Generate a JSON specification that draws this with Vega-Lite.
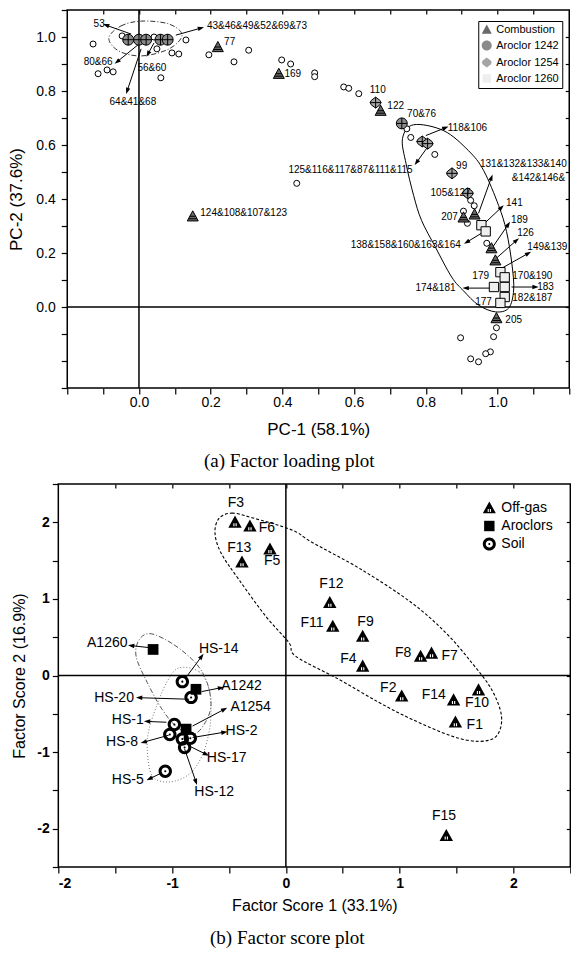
{
"$schema": "https://vega.github.io/schema/vega-lite/v6.json",
"background": "white",
"padding": {"left": 6, "top": 2, "right": 0, "bottom": 0},
"config": {
  "font": "Liberation Sans",
  "view": {"stroke": "black", "strokeWidth": 1.5},
  "axis": {"domain": false, "grid": false, "tickColor": "black", "labelColor": "black", "titleColor": "black", "labelFont": "Liberation Sans", "titleFont": "Liberation Sans", "titleFontWeight": "normal", "labelOverlap": false, "tickWidth": 1.2},
  "text": {"font": "Liberation Sans", "color": "black"}
},
"columns": 1,
"align": "all",
"center": true,
"spacing": 1,
"resolve": {"scale": {"x": "independent", "y": "independent", "shape": "independent", "fill": "independent"}, "legend": {"shape": "independent", "fill": "independent"}},
"concat": [
{
"width": 502, "height": 378,
"title": {"text": "(a)  Factor loading plot", "orient": "bottom", "anchor": "middle", "dx": -29, "offset": 15, "font": "Liberation Serif", "fontSize": 19, "fontWeight": "normal", "color": "black"},
"resolve": {"axis": {"x": "independent", "y": "independent"}},
"layer": [
 {"data": {"values": [{"z": 0}]},
  "mark": {"type": "rule", "color": "black", "strokeWidth": 1.5},
  "encoding": {"x": {"datum": 0, "type": "quantitative", "scale": {"domain": [-0.2, 1.2], "nice": false, "zero": false},
     "axis": {"orient": "top", "labels": false, "title": null, "values": [-0.1,0,0.1,0.2,0.3,0.4,0.5,0.6,0.7,0.8,0.9,1.0,1.1], "tickSize": 4, "offset": -4}}}},
 {"data": {"values": [{"z": 0}]},
  "mark": {"type": "rule", "color": "black", "strokeWidth": 1.5},
  "encoding": {"y": {"datum": 0, "type": "quantitative", "scale": {"domain": [-0.3, 1.1], "nice": false, "zero": false},
     "axis": {"orient": "right", "labels": false, "title": null, "values": [-0.2,-0.1,0,0.1,0.2,0.3,0.4,0.5,0.6,0.7,0.8,0.9,1.0], "tickSize": 4, "offset": -4}}}},
 {"data": {"values": [
   {"i":1,"x":-0.084,"y":0.996},{"i":2,"x":-0.05,"y":1.041},{"i":3,"x":0.008,"y":1.059},{"i":4,"x":0.084,"y":1.048},
   {"i":5,"x":0.12,"y":1.007},{"i":6,"x":0.084,"y":0.956},{"i":7,"x":0.008,"y":0.93},{"i":8,"x":-0.056,"y":0.948}]},
  "mark": {"type": "line", "interpolate": "cardinal-closed", "color": "#333", "strokeWidth": 1, "strokeDash": [5, 2, 1, 2]},
  "encoding": {
    "x": {"field": "x", "type": "quantitative", "axis": {"orient": "bottom", "title": "PC-1 (58.1%)", "titleFontSize": 17, "titlePadding": 12, "labelFontSize": 14, "labelPadding": 1, "tickSize": 6,
       "values": [-0.2,-0.1,0,0.1,0.2,0.3,0.4,0.5,0.6,0.7,0.8,0.9,1.0,1.1,1.2],
       "labelExpr": "datum.value > -0.01 && datum.value < 1.05 && abs(round(datum.value*10)) % 2 == 0 ? format(datum.value, '.1f') : ''"}},
    "y": {"field": "y", "type": "quantitative", "axis": {"orient": "left", "title": "PC-2 (37.6%)", "titleFontSize": 17, "titlePadding": 10.5, "labelFontSize": 14, "labelPadding": 6, "tickSize": 6,
       "values": [-0.3,-0.2,-0.1,0,0.1,0.2,0.3,0.4,0.5,0.6,0.7,0.8,0.9,1.0,1.1],
       "labelExpr": "datum.value > -0.01 && datum.value < 1.05 && abs(round(datum.value*10)) % 2 == 0 ? format(datum.value, '.1f') : ''"}},
    "order": {"field": "i", "type": "quantitative"}}},
 {"data": {"values": [
   {"i":1,"x":0.766,"y":0.675},{"i":2,"x":0.85,"y":0.653},{"i":3,"x":0.919,"y":0.579},{"i":4,"x":0.961,"y":0.506},
   {"i":5,"x":1.003,"y":0.376},{"i":6,"x":1.025,"y":0.28},{"i":7,"x":1.04,"y":0.16},{"i":8,"x":1.045,"y":0.063},
   {"i":9,"x":1.031,"y":-0.004},{"i":10,"x":0.994,"y":-0.018},{"i":11,"x":0.947,"y":0.007},{"i":12,"x":0.905,"y":0.06},
   {"i":13,"x":0.872,"y":0.111},{"i":14,"x":0.827,"y":0.221},{"i":15,"x":0.788,"y":0.321},{"i":16,"x":0.766,"y":0.413},
   {"i":17,"x":0.745,"y":0.53},{"i":18,"x":0.735,"y":0.624}]},
  "mark": {"type": "line", "interpolate": "cardinal-closed", "color": "black", "strokeWidth": 1},
  "encoding": {"x": {"field": "x", "type": "quantitative", "axis": null}, "y": {"field": "y", "type": "quantitative", "axis": null}, "order": {"field": "i", "type": "quantitative"}}},
 {"data": {"name": "arrowsA", "values": [
   {"x":-0.022,"y":1.011,"x2":-0.092,"y2":1.044},
   {"x":0.103,"y":1.007,"x2":0.173,"y2":1.033},
   {"x":0.0,"y":0.974,"x2":-0.061,"y2":0.908},
   {"x":0.042,"y":0.978,"x2":0.025,"y2":0.937},
   {"x":0.006,"y":0.956,"x2":-0.033,"y2":0.8},
   {"x":0.8,"y":0.635,"x2":0.855,"y2":0.664},
   {"x":0.808,"y":0.598,"x2":0.774,"y2":0.535},
   {"x":0.947,"y":0.347,"x2":0.983,"y2":0.48},
   {"x":0.967,"y":0.314,"x2":1.011,"y2":0.369},
   {"x":0.986,"y":0.221,"x2":1.03,"y2":0.306},
   {"x":0.997,"y":0.181,"x2":1.053,"y2":0.247},
   {"x":1.003,"y":0.137,"x2":1.086,"y2":0.199},
   {"x":0.955,"y":0.273,"x2":0.914,"y2":0.24},
   {"x":0.983,"y":0.07,"x2":0.911,"y2":0.07},
   {"x":1.039,"y":0.074,"x2":1.106,"y2":0.074}]},
  "mark": {"type": "rule", "color": "black", "strokeWidth": 1},
  "encoding": {"x": {"field": "x", "type": "quantitative", "axis": null}, "y": {"field": "y", "type": "quantitative", "axis": null},
    "x2": {"field": "x2"}, "y2": {"field": "y2"}}},
 {"data": {"values": [
   {"x":-0.128,"y":0.974},{"x":-0.114,"y":0.864},{"x":-0.089,"y":0.878},{"x":-0.072,"y":0.871},{"x":-0.047,"y":1.004},
   {"x":0.042,"y":1.0},{"x":0.05,"y":0.956},{"x":0.061,"y":0.849},{"x":0.092,"y":0.941},{"x":0.111,"y":0.937},
   {"x":0.131,"y":0.989},{"x":0.195,"y":0.934},{"x":0.265,"y":0.908},{"x":0.306,"y":0.951},{"x":0.398,"y":0.915},
   {"x":0.423,"y":0.9},{"x":0.44,"y":0.458},{"x":0.49,"y":0.867},{"x":0.49,"y":0.853},{"x":0.571,"y":0.815},
   {"x":0.585,"y":0.81},{"x":0.613,"y":0.79},{"x":0.747,"y":0.66},{"x":0.758,"y":0.628},{"x":0.825,"y":0.565},
   {"x":0.925,"y":0.395},{"x":0.935,"y":0.375},{"x":0.905,"y":0.355},{"x":0.916,"y":0.31},{"x":0.97,"y":0.236},
   {"x":0.997,"y":-0.077},{"x":0.989,"y":-0.11},{"x":0.897,"y":-0.114},{"x":0.98,"y":-0.166},{"x":0.967,"y":-0.173},
   {"x":0.925,"y":-0.192},{"x":0.947,"y":-0.203}]},
  "mark": {"type": "point", "shape": "circle", "filled": true, "fill": "white", "stroke": "black", "strokeWidth": 1, "size": 36, "opacity": 1},
  "encoding": {"x": {"field": "x", "type": "quantitative", "axis": null}, "y": {"field": "y", "type": "quantitative", "axis": null}}},
 {"data": {"values": [
   {"x":-0.03,"y":0.99,"g":"Aroclor 1242"},{"x":0.0,"y":0.99,"g":"Aroclor 1242"},{"x":0.02,"y":0.99,"g":"Aroclor 1242"},
   {"x":0.06,"y":0.99,"g":"Aroclor 1242"},{"x":0.08,"y":0.99,"g":"Aroclor 1242"},{"x":0.733,"y":0.68,"g":"Aroclor 1242"},
   {"x":0.66,"y":0.757,"g":"Aroclor 1254"},{"x":0.79,"y":0.613,"g":"Aroclor 1254"},{"x":0.805,"y":0.605,"g":"Aroclor 1254"},
   {"x":0.873,"y":0.495,"g":"Aroclor 1254"},{"x":0.917,"y":0.421,"g":"Aroclor 1254"},
   {"x":0.22,"y":0.963,"g":"Combustion"},{"x":0.39,"y":0.864,"g":"Combustion"},{"x":0.15,"y":0.336,"g":"Combustion"},
   {"x":0.674,"y":0.727,"g":"Combustion"},{"x":0.905,"y":0.332,"g":"Combustion"},{"x":0.936,"y":0.343,"g":"Combustion"},
   {"x":0.983,"y":0.218,"g":"Combustion"},{"x":0.994,"y":0.173,"g":"Combustion"},{"x":0.997,"y":-0.041,"g":"Combustion"},
   {"x":0.955,"y":0.303,"g":"Aroclor 1260"},{"x":0.967,"y":0.28,"g":"Aroclor 1260"},{"x":1.008,"y":0.129,"g":"Aroclor 1260"},
   {"x":1.02,"y":0.11,"g":"Aroclor 1260"},{"x":0.99,"y":0.074,"g":"Aroclor 1260"},{"x":1.02,"y":0.074,"g":"Aroclor 1260"},
   {"x":1.02,"y":0.037,"g":"Aroclor 1260"},{"x":1.008,"y":0.015,"g":"Aroclor 1260"}]},
  "mark": {"type": "point", "filled": true, "stroke": "black", "strokeWidth": 1, "size": 120, "opacity": 1},
  "encoding": {"x": {"field": "x", "type": "quantitative", "axis": null}, "y": {"field": "y", "type": "quantitative", "axis": null},
    "shape": {"field": "g", "type": "nominal",
      "scale": {"domain": ["Combustion", "Aroclor 1242", "Aroclor 1254", "Aroclor 1260"],
        "range": ["M0,-1L1,0.85L-1,0.85Z M-0.55,0L0.55,0 M-0.75,0.45L0.75,0.45",
                  "M-1,0A1,1,0,1,1,1,0A1,1,0,1,1,-1,0Z M-1,0L1,0 M0,-1L0,1",
                  "M0,-1L0.8,-0.4L1,0L0.8,0.4L0,1L-0.8,0.4L-1,0L-0.8,-0.4Z M-1,0L1,0 M0,-1L0,1",
                  "M-0.85,-0.85L0.85,-0.85L0.85,0.85L-0.85,0.85Z"]},
      "legend": {"orient": "none", "legendX": 411, "legendY": 11, "title": null, "strokeColor": "black", "fillColor": "white", "padding": 3, "labelFontSize": 11, "labelColor": "black", "symbolStrokeColor": "black", "symbolStrokeWidth": 1, "symbolSize": 100, "symbolOpacity": 1, "rowPadding": 2, "labelOffset": 4}},
    "fill": {"field": "g", "type": "nominal",
      "scale": {"domain": ["Combustion", "Aroclor 1242", "Aroclor 1254", "Aroclor 1260"], "range": ["#6a6a6a", "#8a8a8a", "#a5a5a5", "#eeeeee"]},
      "legend": {"orient": "none", "legendX": 411, "legendY": 11, "title": null, "strokeColor": "black", "fillColor": "white", "padding": 3, "labelFontSize": 11, "labelColor": "black", "symbolStrokeColor": "black", "symbolStrokeWidth": 1, "symbolSize": 100, "symbolOpacity": 1, "rowPadding": 2, "labelOffset": 4}}}},
 {"data": {"name": "arrowsA"},
  "mark": {"type": "point", "shape": "M0,-1L0.7,1L-0.7,1Z", "filled": true, "color": "black", "size": 40, "opacity": 1,
    "angle": {"expr": "atan2((datum.x2-datum.x)*359, (datum.y2-datum.y)*271)*180/PI"}},
  "encoding": {"x": {"field": "x2", "type": "quantitative", "axis": null}, "y": {"field": "y2", "type": "quantitative", "axis": null}}},
 {"data": {"values": [
   {"x":-0.111,"y":1.048,"t":"53"},
   {"x":0.329,"y":1.041,"t":"43&46&49&52&69&73"},
   {"x":-0.114,"y":0.908,"t":"80&66"},
   {"x":0.036,"y":0.886,"t":"56&60"},
   {"x":-0.017,"y":0.76,"t":"64&41&68"},
   {"x":0.253,"y":0.982,"t":"77"},
   {"x":0.429,"y":0.864,"t":"169"},
   {"x":0.292,"y":0.347,"t":"124&108&107&123"},
   {"x":0.666,"y":0.804,"t":"110"},
   {"x":0.716,"y":0.745,"t":"122"},
   {"x":0.788,"y":0.716,"t":"70&76"},
   {"x":0.916,"y":0.664,"t":"118&106"},
   {"x":0.59,"y":0.506,"t":"125&116&117&87&111&115"},
   {"x":0.9,"y":0.524,"t":"99"},
   {"x":1.072,"y":0.53,"t":"131&132&133&140"},
   {"x":1.114,"y":0.476,"t":"&142&146&"},
   {"x":0.869,"y":0.421,"t":"105&127"},
   {"x":1.047,"y":0.384,"t":"141"},
   {"x":0.866,"y":0.332,"t":"207"},
   {"x":1.061,"y":0.321,"t":"189"},
   {"x":1.078,"y":0.273,"t":"126"},
   {"x":1.139,"y":0.221,"t":"149&139"},
   {"x":0.744,"y":0.229,"t":"138&158&160&163&164"},
   {"x":0.953,"y":0.114,"t":"179"},
   {"x":1.097,"y":0.114,"t":"170&190"},
   {"x":0.827,"y":0.07,"t":"174&181"},
   {"x":1.134,"y":0.074,"t":"183"},
   {"x":1.097,"y":0.033,"t":"182&187"},
   {"x":0.961,"y":0.018,"t":"177"},
   {"x":1.045,"y":-0.048,"t":"205"}]},
  "mark": {"type": "text", "fontSize": 10, "align": "center", "baseline": "middle", "color": "black"},
  "encoding": {"x": {"field": "x", "type": "quantitative", "axis": null}, "y": {"field": "y", "type": "quantitative", "axis": null}, "text": {"field": "t"}}}
]
},
{
"width": 512, "height": 383,
"title": {"text": "(b)  Factor score plot", "orient": "bottom", "anchor": "middle", "dx": -27, "offset": 15.5, "font": "Liberation Serif", "fontSize": 19, "fontWeight": "normal", "color": "black"},
"resolve": {"axis": {"x": "independent", "y": "independent"}},
"layer": [
 {"data": {"values": [{"z": 0}]},
  "mark": {"type": "rule", "color": "black", "strokeWidth": 1.5},
  "encoding": {"x": {"datum": 0, "type": "quantitative", "scale": {"domain": [-2, 2.5], "nice": false, "zero": false},
     "axis": {"orient": "top", "labels": false, "title": null, "values": [-1.5,-1,-0.5,0,0.5,1,1.5,2], "tickSize": 4, "offset": -4}}}},
 {"data": {"values": [{"z": 0}]},
  "mark": {"type": "rule", "color": "black", "strokeWidth": 1.5},
  "encoding": {"y": {"datum": 0, "type": "quantitative", "scale": {"domain": [-2.5, 2.5], "nice": false, "zero": false},
     "axis": {"orient": "right", "labels": false, "title": null, "values": [-2,-1.5,-1,-0.5,0,0.5,1,1.5,2], "tickSize": 12, "offset": -4}}}},
 {"data": {"values": [
   {"i":1,"x":-0.588,"y":2.05},{"i":2,"x":-0.474,"y":2.12},{"i":3,"x":-0.298,"y":2.06},{"i":4,"x":0.053,"y":1.9},
   {"i":5,"x":0.228,"y":1.74},{"i":6,"x":0.667,"y":1.38},{"i":7,"x":1.105,"y":0.95},{"i":8,"x":1.404,"y":0.56},
   {"i":9,"x":1.632,"y":0.17},{"i":10,"x":1.807,"y":-0.18},{"i":11,"x":1.895,"y":-0.53},{"i":12,"x":1.851,"y":-0.79},
   {"i":13,"x":1.693,"y":-0.86},{"i":14,"x":1.456,"y":-0.79},{"i":15,"x":1.105,"y":-0.57},{"i":16,"x":0.816,"y":-0.35},
   {"i":17,"x":0.465,"y":-0.05},{"i":18,"x":0.088,"y":0.25},{"i":19,"x":0.026,"y":0.43},{"i":20,"x":-0.175,"y":0.77},
   {"i":21,"x":-0.412,"y":1.25},{"i":22,"x":-0.57,"y":1.6},{"i":23,"x":-0.623,"y":1.86}]},
  "mark": {"type": "line", "interpolate": "cardinal-closed", "color": "black", "strokeWidth": 1.1, "strokeDash": [3, 2]},
  "encoding": {
    "x": {"field": "x", "type": "quantitative", "axis": {"orient": "bottom", "title": "Factor Score 1 (33.1%)", "titleFontSize": 16, "titlePadding": 7, "labelFontSize": 14, "labelFontWeight": "bold", "labelPadding": 3, "tickSize": 6,
       "values": [-2,-1.5,-1,-0.5,0,0.5,1,1.5,2,2.5],
       "labelExpr": "abs(round(datum.value*2)) % 2 == 0 ? '' + datum.value : ''"}},
    "y": {"field": "y", "type": "quantitative", "axis": {"orient": "left", "title": "Factor Score 2 (16.9%)", "titleFontSize": 16, "titlePadding": 9, "labelFontSize": 14, "labelFontWeight": "bold", "labelPadding": 3, "tickSize": 6,
       "values": [-2.5,-2,-1.5,-1,-0.5,0,0.5,1,1.5,2,2.5],
       "labelExpr": "abs(round(datum.value*2)) % 2 == 0 ? '' + datum.value : ''"}},
    "order": {"field": "i", "type": "quantitative"}}},
 {"data": {"values": [
   {"i":1,"x":-1.184,"y":0.545},{"i":2,"x":-0.982,"y":0.4},{"i":3,"x":-0.789,"y":0.156},{"i":4,"x":-0.693,"y":-0.09},
   {"i":5,"x":-0.658,"y":-0.377},{"i":6,"x":-0.702,"y":-0.597},{"i":7,"x":-0.807,"y":-0.766},{"i":8,"x":-0.956,"y":-0.675},
   {"i":9,"x":-1.088,"y":-0.442},{"i":10,"x":-1.219,"y":-0.09},{"i":11,"x":-1.316,"y":0.247},{"i":12,"x":-1.289,"y":0.468}]},
  "mark": {"type": "line", "interpolate": "cardinal-closed", "color": "#555", "strokeWidth": 1, "strokeDash": [5, 2, 1, 2]},
  "encoding": {"x": {"field": "x", "type": "quantitative", "axis": null}, "y": {"field": "y", "type": "quantitative", "axis": null}, "order": {"field": "i", "type": "quantitative"}}},
 {"data": {"values": [
   {"i":1,"x":-0.939,"y":0.1},{"i":2,"x":-0.763,"y":0.05},{"i":3,"x":-0.675,"y":-0.18},{"i":4,"x":-0.658,"y":-0.47},
   {"i":5,"x":-0.675,"y":-0.74},{"i":6,"x":-0.737,"y":-1.05},{"i":7,"x":-0.851,"y":-1.29},{"i":8,"x":-1.026,"y":-1.39},
   {"i":9,"x":-1.175,"y":-1.31},{"i":10,"x":-1.219,"y":-0.96},{"i":11,"x":-1.202,"y":-0.7},{"i":12,"x":-1.132,"y":-0.38},
   {"i":13,"x":-1.044,"y":-0.08}]},
  "mark": {"type": "line", "interpolate": "cardinal-closed", "color": "#777", "strokeWidth": 1, "strokeDash": [1, 2]},
  "encoding": {"x": {"field": "x", "type": "quantitative", "axis": null}, "y": {"field": "y", "type": "quantitative", "axis": null}, "order": {"field": "i", "type": "quantitative"}}},
 {"data": {"name": "arrowsB", "values": [
   {"x":-1.175,"y":0.36,"x2":-1.36,"y2":0.39},
   {"x":-0.88,"y":-0.03,"x2":-0.74,"y2":0.25},
   {"x":-0.74,"y":-0.21,"x2":-0.57,"y2":-0.16},
   {"x":-0.85,"y":-0.31,"x2":-1.29,"y2":-0.29},
   {"x":-0.82,"y":-0.66,"x2":-0.54,"y2":-0.44},
   {"x":-1.05,"y":-0.61,"x2":-1.22,"y2":-0.6},
   {"x":-1.03,"y":-0.78,"x2":-1.25,"y2":-0.87},
   {"x":-0.82,"y":-0.81,"x2":-0.54,"y2":-0.74},
   {"x":-0.85,"y":-0.92,"x2":-0.7,"y2":-1.03},
   {"x":-0.89,"y":-0.96,"x2":-0.79,"y2":-1.39},
   {"x":-1.09,"y":-1.27,"x2":-1.2,"y2":-1.35}]},
  "mark": {"type": "rule", "color": "black", "strokeWidth": 1},
  "encoding": {"x": {"field": "x", "type": "quantitative", "axis": null}, "y": {"field": "y", "type": "quantitative", "axis": null},
    "x2": {"field": "x2"}, "y2": {"field": "y2"}}},
 {"data": {"values": [
   {"x":1.49,"y":-0.61,"g":"Off-gas"},{"x":1.018,"y":-0.27,"g":"Off-gas"},{"x":-0.447,"y":2.0,"g":"Off-gas"},
   {"x":0.675,"y":0.12,"g":"Off-gas"},{"x":-0.14,"y":1.65,"g":"Off-gas"},{"x":-0.316,"y":1.95,"g":"Off-gas"},
   {"x":1.28,"y":0.29,"g":"Off-gas"},{"x":1.184,"y":0.25,"g":"Off-gas"},{"x":0.675,"y":0.51,"g":"Off-gas"},
   {"x":1.693,"y":-0.19,"g":"Off-gas"},{"x":0.412,"y":0.64,"g":"Off-gas"},{"x":0.386,"y":0.95,"g":"Off-gas"},
   {"x":-0.386,"y":1.48,"g":"Off-gas"},{"x":1.474,"y":-0.32,"g":"Off-gas"},{"x":1.41,"y":-2.09,"g":"Off-gas"},
   {"x":-1.167,"y":0.34,"g":"Aroclors"},{"x":-0.79,"y":-0.18,"g":"Aroclors"},{"x":-0.877,"y":-0.7,"g":"Aroclors"},
   {"x":-0.91,"y":-0.08,"g":"Soil"},{"x":-0.833,"y":-0.286,"g":"Soil"},{"x":-0.98,"y":-0.64,"g":"Soil"},
   {"x":-1.02,"y":-0.77,"g":"Soil"},{"x":-0.84,"y":-0.82,"g":"Soil"},{"x":-0.91,"y":-0.83,"g":"Soil"},
   {"x":-0.89,"y":-0.94,"g":"Soil"},{"x":-1.06,"y":-1.25,"g":"Soil"}]},
  "mark": {"type": "point", "filled": true, "color": "black", "strokeWidth": 0, "size": 180, "opacity": 1},
  "encoding": {"x": {"field": "x", "type": "quantitative", "axis": null}, "y": {"field": "y", "type": "quantitative", "axis": null},
    "shape": {"field": "g", "type": "nominal",
      "scale": {"domain": ["Off-gas", "Aroclors", "Soil"],
        "range": ["M0,-1L1,0.8L-1,0.8Z M-0.25,0.15L-0.25,0.6L-0.08,0.6L-0.08,0.15Z M0.08,0.15L0.08,0.6L0.25,0.6L0.25,0.15Z",
                  "M-0.8,-0.8L0.8,-0.8L0.8,0.8L-0.8,0.8Z",
                  "M-1,0A1,1,0,1,1,1,0A1,1,0,1,1,-1,0Z M-0.55,0A0.55,0.55,0,1,0,0.55,0A0.55,0.55,0,1,0,-0.55,0Z M-0.15,0A0.15,0.15,0,1,1,0.15,0A0.15,0.15,0,1,1,-0.15,0Z"]},
      "legend": {"orient": "none", "legendX": 424, "legendY": 17, "title": null, "labelFontSize": 14, "labelColor": "black", "symbolFillColor": "black", "symbolStrokeWidth": 0, "symbolSize": 170, "symbolOpacity": 1, "rowPadding": 4, "labelOffset": 5}}}},
 {"data": {"name": "arrowsB"},
  "mark": {"type": "point", "shape": "M0,-1L0.7,1L-0.7,1Z", "filled": true, "color": "black", "size": 40, "opacity": 1,
    "angle": {"expr": "atan2((datum.x2-datum.x)*114, (datum.y2-datum.y)*77)*180/PI"}},
  "encoding": {"x": {"field": "x2", "type": "quantitative", "axis": null}, "y": {"field": "y2", "type": "quantitative", "axis": null}}},
 {"data": {"values": [
   {"x":-0.44,"y":2.25,"t":"F3"},{"x":-0.167,"y":1.92,"t":"F6"},{"x":-0.41,"y":1.66,"t":"F13"},{"x":-0.12,"y":1.49,"t":"F5"},
   {"x":0.4,"y":1.19,"t":"F12"},{"x":0.23,"y":0.69,"t":"F11"},{"x":0.7,"y":0.7,"t":"F9"},{"x":0.55,"y":0.21,"t":"F4"},
   {"x":1.03,"y":0.29,"t":"F8"},{"x":1.44,"y":0.26,"t":"F7"},{"x":0.9,"y":-0.16,"t":"F2"},{"x":1.3,"y":-0.25,"t":"F14"},
   {"x":1.68,"y":-0.36,"t":"F10"},{"x":1.66,"y":-0.65,"t":"F1"},{"x":1.39,"y":-1.84,"t":"F15"},
   {"x":-1.57,"y":0.43,"t":"A1260"},{"x":-0.59,"y":0.35,"t":"HS-14"},{"x":-0.39,"y":-0.14,"t":"A1242"},
   {"x":-1.51,"y":-0.29,"t":"HS-20"},{"x":-0.31,"y":-0.41,"t":"A1254"},{"x":-1.39,"y":-0.58,"t":"HS-1"},
   {"x":-1.44,"y":-0.87,"t":"HS-8"},{"x":-0.39,"y":-0.72,"t":"HS-2"},{"x":-0.52,"y":-1.08,"t":"HS-17"},
   {"x":-0.63,"y":-1.52,"t":"HS-12"},{"x":-1.39,"y":-1.37,"t":"HS-5"}]},
  "mark": {"type": "text", "fontSize": 14, "align": "center", "baseline": "middle", "color": "black"},
  "encoding": {"x": {"field": "x", "type": "quantitative", "axis": null}, "y": {"field": "y", "type": "quantitative", "axis": null}, "text": {"field": "t"}}}
]
}
]
}
